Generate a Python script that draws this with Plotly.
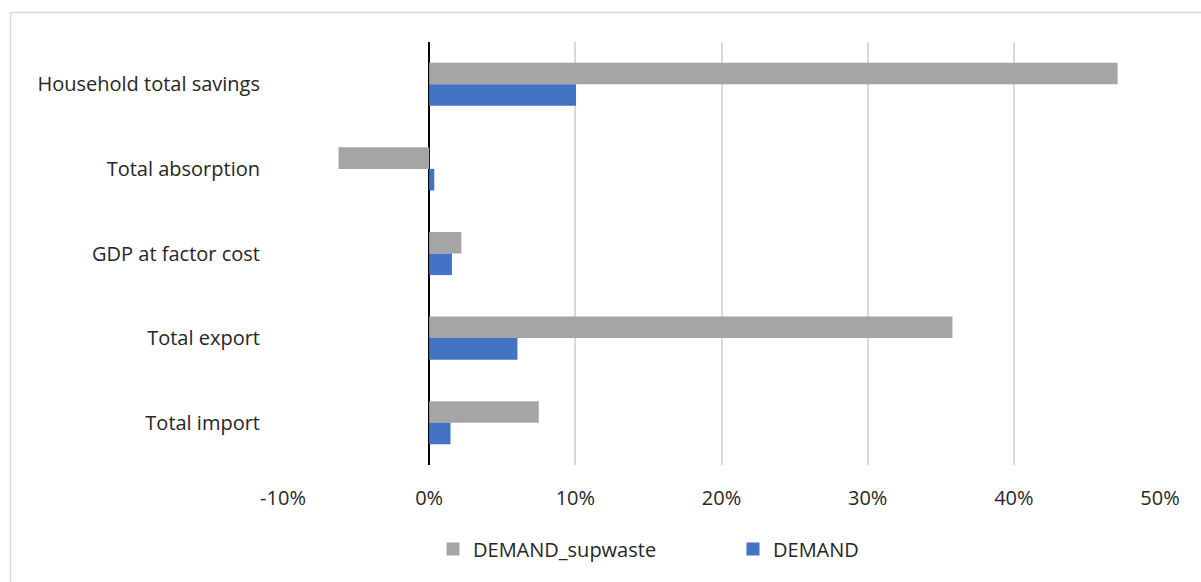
import plotly.graph_objects as go

categories = ["Household total savings", "Total absorption", "GDP at factor cost", "Total export", "Total import"]
supwaste = [0.471, -0.062, 0.022, 0.358, 0.075]
demand = [0.1005, 0.0035, 0.0156, 0.0604, 0.0146]
tick_vals = [-0.1, 0, 0.1, 0.2, 0.3, 0.4, 0.5]
tick_text = ["-10%", "0%", "10%", "20%", "30%", "40%", "50%"]

FONT = "Open Sans, Liberation Sans, sans-serif"
GRAY = "#a5a5a5"
BLUE = "#4472c4"
FS = 20

fig = go.Figure()
fig.add_trace(go.Bar(y=categories, x=supwaste, orientation="h", name="DEMAND_supwaste",
                     marker=dict(color=GRAY, line=dict(width=0)), showlegend=False))
fig.add_trace(go.Bar(y=categories, x=demand, orientation="h", name="DEMAND",
                     marker=dict(color=BLUE, line=dict(width=0)), showlegend=False))
# legend-only entries with square swatches
fig.add_trace(go.Scatter(x=[None], y=[None], mode="markers", name="DEMAND_supwaste",
                         marker=dict(symbol="square", size=13, color=GRAY)))
fig.add_trace(go.Scatter(x=[None], y=[None], mode="markers", name="DEMAND",
                         marker=dict(symbol="square", size=13, color=BLUE)))

L, R, T, B = 283, 1160, 42, 465
W, H = 1201, 582
px = lambda x: (x - L) / (R - L)
py = lambda y: (B - y) / (B - T)

fig.update_layout(
    width=W, height=H,
    margin=dict(l=L, r=W - R, t=T, b=H - B),
    paper_bgcolor="white", plot_bgcolor="white",
    barmode="group", bargap=0.49, bargroupgap=0,
    font=dict(family=FONT, size=FS, color="#262626"),
    xaxis=dict(range=[-0.1, 0.5], tickvals=tick_vals, ticktext=tick_text,
               showgrid=True, gridcolor="#d9d9d9", gridwidth=1.5,
               zeroline=True, zerolinecolor="black", zerolinewidth=2,
               showline=False, ticks="outside", ticklen=15, tickcolor="rgba(0,0,0,0)",
               tickfont=dict(size=FS, color="#262626"), fixedrange=True),
    yaxis=dict(autorange="reversed", showgrid=False, zeroline=False, showline=False,
               ticks="outside", ticklen=18, tickcolor="rgba(0,0,0,0)",
               tickfont=dict(size=FS, color="#262626")),
    legend=dict(orientation="h", x=px(433), xanchor="left", y=py(549), yanchor="middle",
                font=dict(size=FS, color="#262626"), entrywidth=255, entrywidthmode="pixels",
                itemwidth=30, traceorder="normal"),
    shapes=[dict(type="rect", xref="paper", yref="paper",
                 x0=px(10.5), x1=px(1210), y0=py(12.5), y1=py(600),
                 line=dict(color="#d9d9d9", width=1.5), fillcolor="rgba(0,0,0,0)", layer="below")],
)

fig.write_html("out.html")
